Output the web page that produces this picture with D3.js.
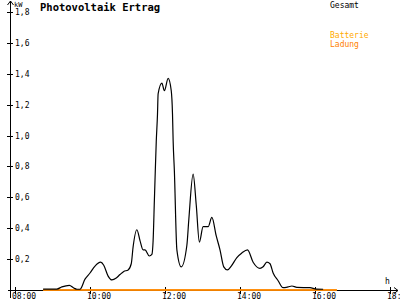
<!DOCTYPE html>
<html>
<head>
<meta charset="utf-8">
<script src="https://cdn.jsdelivr.net/npm/d3@7"></script>
<style>
  body { margin: 0; background: #fff; }
  svg { display: block; }
  text { font-family: "DejaVu Sans Mono", monospace; }
</style>
</head>
<body>
<div id="chart"></div>
<script>
"use strict";

// Gesamt (kW) over the day
var gesamtTimes = ["08:45","09:07","09:15","09:27","09:34","09:39","09:44","09:52","10:00","10:08",
  "10:17","10:22","10:29","10:35","10:42","10:48","10:54","11:01","11:06","11:09",
  "11:15","11:20","11:25","11:28","11:35","11:39","11:41","11:43","11:44","11:46",
  "11:48","11:49","11:55","11:59","12:05","12:10","12:12","12:13","12:15","12:19",
  "12:26","12:35","12:38","12:45","12:50","12:55","13:01","13:09","13:15","13:22",
  "13:28","13:34","13:40","13:46","13:55","14:03","14:12","14:21","14:32","14:37",
  "14:43","14:48","14:53","15:01","15:09","15:17","15:23","15:31","15:52","16:02","16:13"];
var gesamtValues = [0.006,0.006,0.02,0.03,0.013,0.005,0.005,0.07,0.11,0.155,
  0.18,0.16,0.09,0.065,0.077,0.10,0.12,0.13,0.17,0.28,
  0.39,0.32,0.26,0.26,0.22,0.23,0.32,0.58,0.71,0.96,
  1.14,1.27,1.34,1.29,1.37,1.29,1.14,0.97,0.77,0.26,
  0.15,0.29,0.45,0.75,0.55,0.31,0.41,0.41,0.47,0.35,
  0.26,0.15,0.13,0.155,0.21,0.24,0.26,0.18,0.14,0.15,
  0.18,0.17,0.11,0.06,0.015,0.02,0.026,0.017,0.015,0.006,0.005];

var batterieTimes = ["08:45", "16:35"];
var batterieValues = [0, 0];
var ladungTimes = ["08:45", "16:35"];
var ladungValues = [0, 0];

var xDomain = ["08:00", "18:00"];
var xTickLabels = ["08:00", "10:00", "12:00", "14:00", "16:00", "18:00"];
var yTickValues = [0.2, 0.4, 0.6, 0.8, 1.0, 1.2, 1.4, 1.6, 1.8];

var legendNames = ["Gesamt", "Batterie", "Ladung"];
var legendColors = ["#000000", "#ffaa00", "#ff8000"];

var width = 400, height = 300;
var parseTime = d3.timeParse("%H:%M");

var svg = d3.select("#chart").append("svg")
    .attr("width", width)
    .attr("height", height);

var x = d3.scaleTime()
    .domain(xDomain.map(parseTime))
    .range([15, 390]);

var y = d3.scaleLinear()
    .domain([0, 1.8])
    .range([290, 12]);

function series(times, values) {
    return times.map(function (t, i) {
        return { t: parseTime(t), v: values[i] };
    });
}

var line = d3.line()
    .x(function (d) { return x(d.t); })
    .y(function (d) { return y(d.v); })
    .curve(d3.curveMonotoneX);

// axes
var axis = svg.append("g").attr("stroke", "#000").attr("fill", "none");
axis.append("line").attr("x1", 10.5).attr("x2", 10.5).attr("y1", 1).attr("y2", 298);
axis.append("path").attr("d", "M7.5,5 L10.5,1 L13.5,5");
axis.append("line").attr("x1", 8).attr("x2", 398).attr("y1", y(0) + 0.5).attr("y2", y(0) + 0.5);
axis.append("path").attr("d", "M394," + (y(0) - 2.5) + " L398," + (y(0) + 0.5) + " L394," + (y(0) + 3.5));

svg.append("text").attr("x", 14).attr("y", 7).attr("font-size", "7px").text("kW");
svg.append("text").attr("x", 385).attr("y", 284).attr("font-size", "8px").text("h");

// y ticks
var fmt = d3.format(".1f");
var yt = svg.append("g");
yt.selectAll("line").data(yTickValues).enter().append("line")
    .attr("x1", 7).attr("x2", 13)
    .attr("y1", function (d) { return Math.round(y(d)) + 0.5; })
    .attr("y2", function (d) { return Math.round(y(d)) + 0.5; })
    .attr("stroke", "#000");
yt.selectAll("text").data(yTickValues).enter().append("text")
    .attr("x", 15)
    .attr("y", function (d) { return y(d) + 3; })
    .attr("font-size", "8px")
    .text(function (d) { return fmt(d).replace(".", ","); });

// x ticks
var xt = svg.append("g");
xt.selectAll("line").data(xTickLabels).enter().append("line")
    .attr("x1", function (d) { return Math.round(x(parseTime(d))) + 0.5; })
    .attr("x2", function (d) { return Math.round(x(parseTime(d))) + 0.5; })
    .attr("y1", 287).attr("y2", 294)
    .attr("stroke", "#000");
xt.selectAll("text").data(xTickLabels).enter().append("text")
    .attr("x", function (d) { return x(parseTime(d)) - 3; })
    .attr("y", 299)
    .attr("font-size", "8px")
    .text(function (d) { return d; });

// data lines
svg.append("path")
    .datum(series(batterieTimes, batterieValues))
    .attr("fill", "none").attr("stroke", legendColors[1]).attr("stroke-width", 1.5)
    .attr("d", line);
svg.append("path")
    .datum(series(ladungTimes, ladungValues))
    .attr("fill", "none").attr("stroke", legendColors[2]).attr("stroke-width", 1.5)
    .attr("d", line);
svg.append("path")
    .datum(series(gesamtTimes, gesamtValues))
    .attr("fill", "none").attr("stroke", legendColors[0]).attr("stroke-width", 1.2)
    .attr("d", line);

// title
svg.append("text").attr("x", 40).attr("y", 11)
    .attr("font-size", "10.5px").attr("font-weight", "bold")
    .text("Photovoltaik Ertrag");

// legend
var legendY = [8, 38, 46.5];
svg.selectAll("text.legend").data(legendNames).enter().append("text")
    .attr("class", "legend")
    .attr("x", 330)
    .attr("y", function (d, i) { return legendY[i]; })
    .attr("font-size", "8px")
    .attr("fill", function (d, i) { return legendColors[i]; })
    .text(function (d) { return d; });
</script>
</body>
</html>
